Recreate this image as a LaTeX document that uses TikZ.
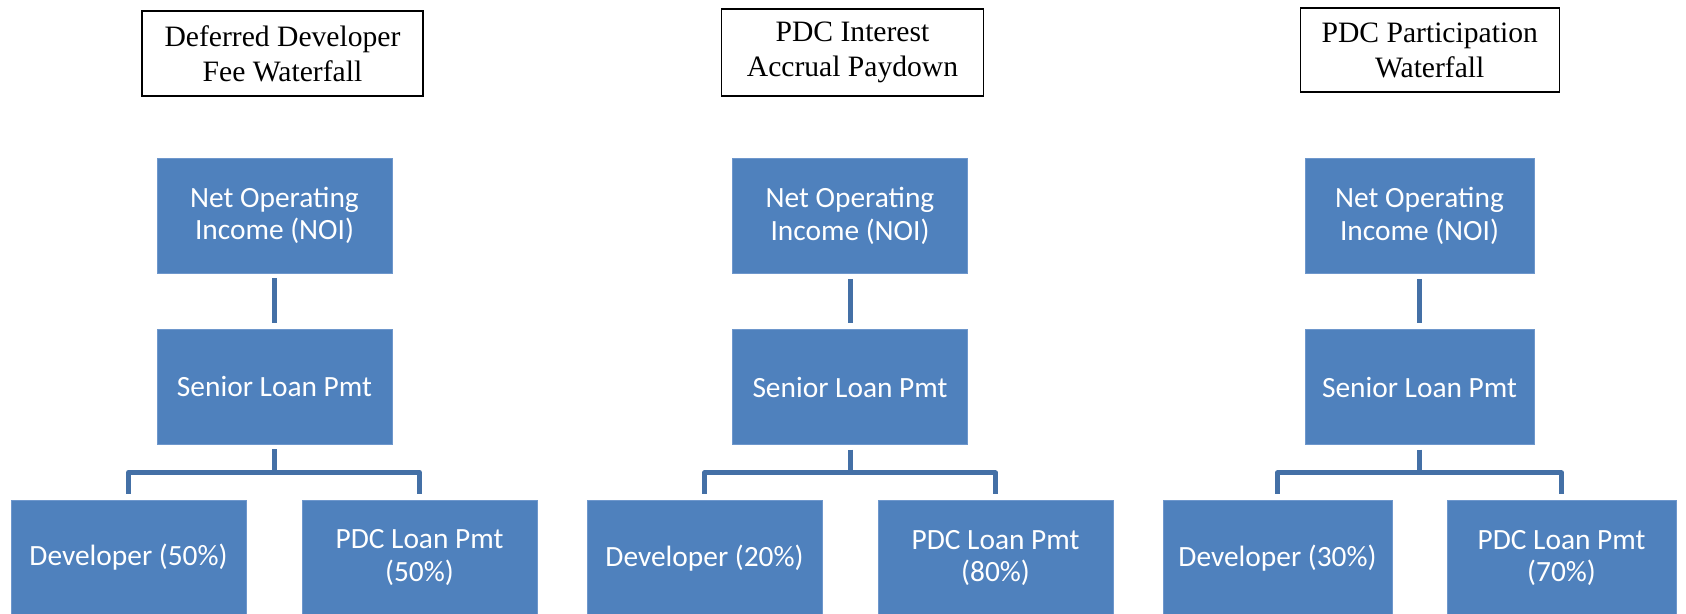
\documentclass[tikz,border=0pt]{standalone}
\usepackage{fontspec}
\setmainfont{Liberation Serif}
\newfontfamily\boxfont{Carlito}
\usetikzlibrary{calc}
\definecolor{boxblue}{HTML}{4F81BD}
\definecolor{boxedge}{HTML}{6E97CC}
\definecolor{linkblue}{HTML}{4470A6}
\tikzset{
  titlebox/.style={draw=black, line width=1.3pt, fill=white, align=center, inner sep=0pt,
    font=\fontsize{29.6}{35}\selectfont},
  bluebox/.style={fill=boxblue, draw=boxedge, line width=0.8pt, text=white, align=center, inner sep=0pt,
    minimum height=115pt, font=\boxfont\fontsize{29.4}{32.5}\selectfont},
  link/.style={draw=linkblue, line width=5pt, shorten <=5pt, shorten >=6pt},
}
\begin{document}
\begin{tikzpicture}[x=1pt, y=-1pt]
\useasboundingbox (0,0) rectangle (1686,613);
\begin{scope}
\clip (0,0) rectangle (1686,613);
% ---- left group
\node[titlebox, minimum width=281pt, minimum height=85pt] (t1) at (282.5,53.5) {Deferred Developer\\Fee Waterfall};
\node[bluebox, minimum width=235pt] (n1) at (274.5,215.5) {Net Operating\\Income (NOI)};
\node[bluebox, minimum width=235pt] (s1) at (274.5,386.5) {Senior Loan Pmt};
\node[bluebox, minimum width=235pt] (d1) at (128.5,557.5) {Developer (50\%)};
\node[bluebox, minimum width=235pt] (p1) at (419.5,557.5) {PDC Loan Pmt\\(50\%)};
\draw[link] (n1.south) -- (s1.north);
\draw[link, line join=round] (s1.south) -- ++(0,28) -| (d1.north);
\draw[link, line join=round] (s1.south) -- ++(0,28) -| (p1.north);
% ---- middle group
\node[titlebox, minimum width=262pt, minimum height=87pt] (t2) at (852.5,52.5) {PDC Interest\\Accrual Paydown};
\node[bluebox, minimum width=235pt] (n2) at (850,216) {Net Operating\\Income (NOI)};
\node[bluebox, minimum width=235pt] (s2) at (850,387) {Senior Loan Pmt};
\node[bluebox, minimum width=235pt] (d2) at (704.5,558) {Developer (20\%)};
\node[bluebox, minimum width=235pt] (p2) at (995.5,558) {PDC Loan Pmt\\(80\%)};
\draw[link] (n2.south) -- (s2.north);
\draw[link, line join=round] (s2.south) -- ++(0,28) -| (d2.north);
\draw[link, line join=round] (s2.south) -- ++(0,28) -| (p2.north);
% ---- right group
\node[titlebox, minimum width=259pt, minimum height=84pt] (t3) at (1429.7,50) {PDC Participation\\Waterfall};
\node[bluebox, minimum width=229pt] (n3) at (1419.5,216) {Net Operating\\Income (NOI)};
\node[bluebox, minimum width=229pt] (s3) at (1419.5,387) {Senior Loan Pmt};
\node[bluebox, minimum width=229pt] (d3) at (1277.5,558) {Developer (30\%)};
\node[bluebox, minimum width=229pt] (p3) at (1561.5,558) {PDC Loan Pmt\\(70\%)};
\draw[link] (n3.south) -- (s3.north);
\draw[link, line join=round] (s3.south) -- ++(0,28) -| (d3.north);
\draw[link, line join=round] (s3.south) -- ++(0,28) -| (p3.north);
\end{scope}
\end{tikzpicture}
\end{document}
